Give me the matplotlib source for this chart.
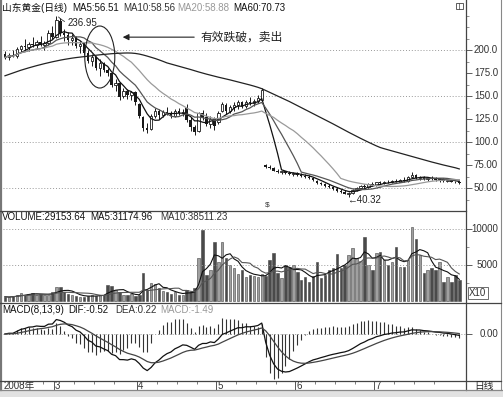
import numpy as np
import pandas as pd
import matplotlib
matplotlib.use('Agg')
import matplotlib.pyplot as plt
from matplotlib.patches import Ellipse, Rectangle

plt.rcParams['font.family'] = ['Liberation Sans', 'Noto Sans CJK SC', 'DejaVu Sans']

# daily OHLC of 山东黄金, Feb-Jul 2008 (unadjusted)
opens = [196, 192, 195, 193, 201, 204, 203, 207, 205, 209,
         206, 208, 218, 214, 232, 219, 216, 211, 213, 204,
         207, 197, 188, 192, 180, 186, 178, 175, 162, 164,
         150, 156, 151, 154, 141, 127, 115, 114, 128, 134,
         129, 133, 131, 128, 134, 131, 137, 124, 116, 112,
         131, 127, 120, 125, 122, 134, 140, 134, 138, 140,
         143, 139, 144, 142, 145, 146, 75, 73, 72, 69,
         67, 68, 66, 65, 66, 64, 63, 62, 61, 58,
         55, 54, 52, 51, 49, 47, 46, 44, 45, 48,
         50, 52, 51, 54, 53, 56, 55, 57, 56, 58,
         57, 59, 58, 62, 64, 61, 62, 60, 61, 60,
         59, 60, 58, 59, 57, 56]
highs = [199, 197, 200, 203, 206, 212, 209, 214, 211, 215,
         210, 222, 226, 236.95, 235, 223, 220, 217, 215, 210,
         209, 200, 196, 194, 190, 187, 180, 176, 168, 165,
         159, 158, 156, 155, 142, 128, 121, 130, 137, 136,
         135, 138, 134, 136, 137, 136, 141, 127, 119, 133,
         135, 131, 128, 127, 134, 144, 142, 140, 143, 146,
         145, 146, 149, 147, 151, 159, 76, 75, 73, 71,
         69, 69, 68, 67, 67, 66, 65, 64, 62, 59,
         57, 55, 54, 52, 51, 49, 48, 46, 49, 51,
         53, 54, 55, 56, 57, 58, 58, 59, 59, 60,
         60, 62, 63, 67, 65, 63, 63, 62, 63, 62,
         61, 61, 60, 60, 58, 57]
lows = [190, 189, 192, 191, 198, 200, 199, 203, 201, 204,
        200, 206, 212, 213, 215, 210, 206, 205, 202, 197,
        195, 186, 183, 178, 172, 176, 172, 160, 155, 146,
        148, 147, 146, 140, 126, 112, 110, 113, 126, 125,
        127, 129, 126, 127, 129, 128, 122, 112, 108, 111,
        124, 117, 115, 113, 120, 133, 130, 131, 134, 136,
        137, 137, 140, 139, 142, 145, 72, 71, 68, 66,
        65, 65, 64, 63, 63, 62, 61, 60, 58, 54,
        53, 51, 50, 48, 46, 45, 43, 40.32, 44, 47,
        49, 50, 50, 52, 52, 54, 54, 55, 55, 56,
        56, 57, 57, 61, 60, 59, 59, 58, 59, 58,
        57, 57, 56, 56, 55, 54]
closes = [192, 195, 193, 201, 204, 203, 207, 205, 209, 206,
          208, 218, 214, 233, 219, 216, 211, 213, 204, 207,
          197, 188, 192, 180, 186, 178, 175, 162, 164, 149,
          156, 151, 154, 143, 128, 115, 113, 128, 134, 129,
          133, 131, 128, 134, 131, 133, 124, 116, 111, 131,
          126, 120, 125, 117, 132, 141, 134, 138, 140, 143,
          139, 144, 142, 145, 148, 157, 73, 72, 69, 67,
          68, 66, 65, 66, 64, 63, 62, 61, 59, 55,
          54, 52, 51, 49, 47, 46, 44, 45, 48, 50,
          52, 51, 54, 53, 56, 55, 57, 56, 58, 57,
          59, 58, 62, 64, 61, 62, 60, 61, 60, 59,
          60, 58, 59, 57, 56, 55]
# volume in axis units (x10)
volumes = [600, 500, 700, 800, 1100, 900, 1000, 1100, 900, 1000,
           800, 900, 1300, 1900, 1900, 1300, 1000, 800, 700, 600,
           600, 700, 800, 700, 900, 800, 2200, 2100, 1500, 1200,
           900, 800, 1000, 700, 900, 3900, 1500, 2500, 2300, 1800,
           1400, 1200, 1000, 1300, 900, 800, 1500, 1200, 1800, 6000,
           9900, 3600, 4300, 8200, 5400, 8200, 6000, 5000, 4600, 3800,
           4300, 3400, 3600, 3500, 3300, 3700, 3500, 5700, 6600, 3900,
           3200, 5000, 4700, 5000, 4000, 2900, 3300, 2600, 3500, 5400,
           3200, 3600, 4300, 4600, 6500, 4600, 5000, 6400, 7300, 6000,
           5500, 8900, 5000, 4300, 6600, 6800, 5700, 5000, 5400, 7500,
           4700, 4700, 5700, 10300, 8600, 6400, 3900, 4300, 4600, 4300,
           5400, 2600, 3300, 2600, 3600, 2915]
# MA60 (needs history before the window)
ma60 = [172, 173.5, 175, 176.5, 178, 179.3, 180.6, 181.8, 183, 184.1,
        185.2, 186.2, 187.2, 188.1, 189, 189.8, 190.5, 191.2, 191.8, 192.3,
        192.8, 193.3, 193.8, 194.3, 194.8, 195.2, 195.6, 196, 196.3, 196.5,
        196.7, 196.8, 196.7, 196.3, 195.6, 194.6, 193.4, 192.1, 190.8, 189.3,
        187.7, 186, 184.8, 183.6, 182.4, 181.2, 180, 178.8, 177.5, 176.2,
        175, 173.8, 172.7, 171.6, 170.5, 169.5, 168.5, 167.5, 166.4, 165.3,
        164.2, 163.1, 162, 160.8, 159.5, 158, 156, 154, 152, 150,
        148, 146, 144, 141.8, 139.6, 137.4, 135.2, 133, 130.8, 128.6,
        126.4, 124.2, 122, 119.8, 117.5, 115.2, 112.9, 110.6, 108.4, 106.2,
        104, 101.9, 99.8, 97.8, 95.8, 94, 92.7, 91.5, 90.3, 89.1,
        87.9, 86.7, 85.5, 84.3, 83.1, 81.9, 80.7, 79.5, 78.3, 77.2,
        76.1, 75, 74, 73, 72, 70.73]

month_starts = [0, 13, 34, 54, 74, 94]
month_labels = ['2008年', '3', '4', '5', '6', '7']
price_ticks = [200, 175, 150, 125, 100, 75, 50]
price_labels = ['200.0', '175.0', '150.0', '125.0', '100.0', '75.00', '50.00']
vol_ticks = [10000, 5000]
vol_labels = ['10000', '5000']

W, H = 503, 397
fig = plt.figure(figsize=(W / 100, H / 100), dpi=100)
fig.patch.set_facecolor('white')


def box(x0, y0, x1, y1):
    return [x0 / W, 1 - y1 / H, (x1 - x0) / W, (y1 - y0) / H]


def lab_x(px):
    # pixel x -> axes fraction for panels spanning 3..466
    return (px - 3) / 463


ax_p = fig.add_axes(box(3, 1, 466, 211))
ax_v = fig.add_axes(box(3, 211, 466, 303))
ax_m = fig.add_axes(box(3, 303, 466, 381))
ax_d = fig.add_axes(box(3, 381, 466, 390))

n = len(closes)
x = np.arange(n)
o, h, l, c = map(np.array, (opens, highs, lows, closes))
up = c >= o
XL = (-0.5, 116.7)
dark = '#1a1a1a'

for ax in (ax_p, ax_v, ax_m, ax_d):
    ax.set_xlim(*XL)
    ax.set_facecolor('white')
    for s in ax.spines.values():
        s.set_visible(False)
    ax.set_xticks([])
    ax.yaxis.tick_right()

# ---- price panel
ax_p.set_ylim(25.0, 253.3)
ax_p.hlines([200, 150, 100, 50], *XL, colors='#999', linestyles=(0, (1, 2)), lw=0.7)
ax_p.vlines(x, l, h, color=dark, lw=0.7, zorder=2)
ax_p.bar(x[up], (c - o)[up], bottom=o[up], width=0.62, facecolor='white',
         edgecolor=dark, lw=0.6, zorder=3)
ax_p.bar(x[~up], np.maximum((o - c)[~up], 0.4), bottom=c[~up], width=0.62,
         color=dark, lw=0, zorder=3)
cs = pd.Series(closes)
ax_p.plot(x, cs.rolling(5, min_periods=1).mean(), color='#111', lw=0.9, zorder=4)
ax_p.plot(x, cs.rolling(10, min_periods=1).mean(), color='#555', lw=0.9, zorder=4)
ax_p.plot(x, cs.rolling(20, min_periods=1).mean(), color='#9a9a9a', lw=0.9, zorder=4)
ax_p.plot(x, ma60, color='#222', lw=0.9, zorder=4)

ax_p.set_yticks(price_ticks)
ax_p.set_yticks(np.arange(37.5, 250, 12.5), minor=True)
ax_p.tick_params(axis='y', which='major', direction='out', length=4, width=0.6,
                 colors='#444', labelright=False)
ax_p.tick_params(axis='y', which='minor', direction='out', length=2, width=0.5,
                 colors='#666')
for v, t in zip(price_ticks, price_labels):
    ax_p.text(lab_x(498), v, t, transform=ax_p.get_yaxis_transform(), ha='right',
              va='center', fontsize=7, color='#333', clip_on=False)

# annotations
ax_p.add_patch(Ellipse((24.0, 192.4), 7.6, 67.4, fill=False, ec='#222', lw=0.8, zorder=5))
ax_p.annotate('', xy=(29.1, 214), xytext=(48.6, 214),
              arrowprops=dict(arrowstyle='-|>', color='#222', lw=0.8, mutation_scale=9))
ax_p.text(49.4, 214, '有效跌破，卖出', fontsize=8.5, va='center', ha='left', color='#222')
ax_p.annotate('236.95', xy=(13.3, 237), xytext=(15.8, 229.5), fontsize=7, color='#222',
              va='center', arrowprops=dict(arrowstyle='-', color='#333', lw=0.6,
                                           connectionstyle='arc3,rad=-0.3',
                                           shrinkA=0, shrinkB=1))
ax_p.text(86.6, 37.5, '←40.32', fontsize=7, va='center', ha='left', color='#222')
ax_p.text(66.3, 31, '$', fontsize=6, va='center', ha='center', color='#333')

# ---- volume panel
ax_v.set_ylim(-278, 12500)
ax_v.hlines(vol_ticks, *XL, colors='#999', linestyles=(0, (1, 2)), lw=0.7)
ax_v.bar(x, volumes, width=0.62, color=np.where(up, '#a0a0a0', '#4a4a4a'),
         edgecolor='#444', lw=0.4)
vs = pd.Series(volumes)
ax_v.plot(x, vs.rolling(5, min_periods=1).mean(), color='#111', lw=0.8)
ax_v.plot(x, vs.rolling(10, min_periods=1).mean(), color='#555', lw=0.8)
ax_v.set_yticks(vol_ticks)
ax_v.set_yticks([2500, 7500], minor=True)
ax_v.tick_params(axis='y', which='major', direction='out', length=4, width=0.6,
                 colors='#444', labelright=False)
ax_v.tick_params(axis='y', which='minor', direction='out', length=2, width=0.5,
                 colors='#666')
for v, t in zip(vol_ticks, vol_labels):
    ax_v.text(lab_x(498), v, t, transform=ax_v.get_yaxis_transform(), ha='right',
              va='center', fontsize=7, color='#333', clip_on=False)

# ---- MACD panel
dif = cs.ewm(span=8, adjust=False).mean() - cs.ewm(span=13, adjust=False).mean()
dea = dif.ewm(span=9, adjust=False).mean()
macd = 2 * (dif - dea)
s_px = 38 / abs(dif.min())
ax_m.set_ylim(-47 / s_px, 31 / s_px)
ax_m.hlines([0], *XL, colors='#999', linestyles=(0, (1, 2)), lw=0.7)
ax_m.vlines(x, 0, macd, color='#333', lw=0.8)
ax_m.plot(x, dif, color='#111', lw=0.9)
ax_m.plot(x, dea, color='#444', lw=0.9)
ax_m.set_yticks([0])
ax_m.tick_params(axis='y', direction='out', length=4, width=0.6, colors='#444',
                 labelright=False)
ax_m.text(lab_x(498), 0, '0.00', transform=ax_m.get_yaxis_transform(), ha='right',
          va='center', fontsize=7, color='#333', clip_on=False)

# ---- date bar
ax_d.set_ylim(0, 1)
ax_d.set_yticks([])
for ms, lb in zip(month_starts, month_labels):
    if ms > 0:
        ax_d.vlines(ms - 0.5, 0, 1, color='#555', lw=0.7)
    ax_d.text(ms - 0.3, 0.45, lb, fontsize=7, va='center', ha='left', color='#333')
bounds = month_starts[1:] + [n]
week_ticks = [m + k for m, e in zip(month_starts, bounds) for k in (5, 10, 15)
              if m + k < e - 1]
ax_d.vlines(np.array(week_ticks) - 0.5, 0.7, 1, color='#666', lw=0.6)

# ---- overlay for frame lines and header texts (pixel coordinates)
ov = fig.add_axes([0, 0, 1, 1], facecolor='none')
ov.set_xlim(0, W)
ov.set_ylim(H, 0)
ov.axis('off')
lc = '#444'
ov.plot([466, 466], [0, 390], color=lc, lw=0.9)
ov.plot([501, 501], [0, 390], color='#888', lw=0.8)
ov.plot([1, 1], [0, 390], color='#777', lw=1.6)
ov.plot([0, 466], [211, 211], color=lc, lw=0.9)
ov.plot([0, 501], [303, 303], color=lc, lw=0.9)
ov.plot([0, 501], [381, 381], color=lc, lw=0.9)
ov.plot([0, 503], [390, 390], color='#888', lw=0.9)
ov.add_patch(Rectangle((0, 391), W, 6, color='#e2e2e2', lw=0))
ov.add_patch(Rectangle((456, 3), 7, 6, fill=False, ec='#444', lw=0.6))
ov.plot([459.5, 459.5], [3, 9], color='#444', lw=0.5)

fs = 7
ov.text(2, 8, '山东黄金(日线)', fontsize=fs, va='center', color='#111')
ov.text(72, 8, 'MA5:56.51', fontsize=fs, va='center', color='#111')
ov.text(123, 8, 'MA10:58.56', fontsize=fs, va='center', color='#333')
ov.text(177, 8, 'MA20:58.88', fontsize=fs, va='center', color='#999')
ov.text(233, 8, 'MA60:70.73', fontsize=fs, va='center', color='#111')
ov.text(2, 217, 'VOLUME:29153.64', fontsize=fs, va='center', color='#111')
ov.text(90, 217, 'MA5:31174.96', fontsize=fs, va='center', color='#111')
ov.text(160, 217, 'MA10:38511.23', fontsize=fs, va='center', color='#333')
ov.text(2, 310, 'MACD(8,13,9)', fontsize=fs, va='center', color='#111')
ov.text(68, 310, 'DIF:-0.52', fontsize=fs, va='center', color='#111')
ov.text(115, 310, 'DEA:0.22', fontsize=fs, va='center', color='#333')
ov.text(160, 310, 'MACD:-1.49', fontsize=fs, va='center', color='#999')
ov.text(469, 293, 'X10', fontsize=fs, va='center', color='#333',
        bbox=dict(boxstyle='square,pad=0.15', fc='white', ec='#555', lw=0.6))
ov.text(484, 386, '日线', fontsize=fs, va='center', ha='center', color='#222')

fig.savefig('out.png', dpi=100)
